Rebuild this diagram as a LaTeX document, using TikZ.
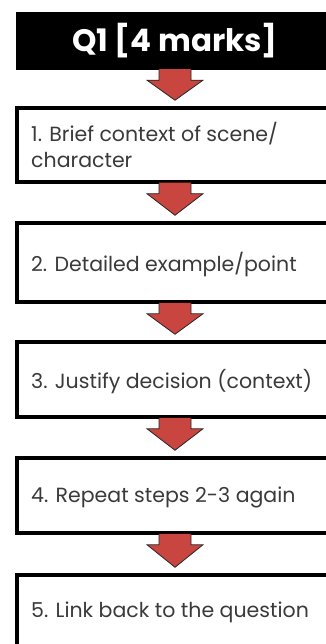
\documentclass[tikz,border=0pt]{standalone}
\usepackage{fontspec}
\setmainfont{Poppins}
\usetikzlibrary{calc}
\definecolor{txt}{HTML}{3A3A3A}
\definecolor{arrowred}{HTML}{C8463F}
\tikzset{
  stepbox/.style={draw=black, line width=3.5pt, fill=white, minimum width=316pt, inner sep=0pt},
  steptext/.style={anchor=west, text=txt, font=\fontsize{20.5}{26}\selectfont, align=left, inner sep=0pt},
  blockarrow/.style={fill=arrowred, draw=black!85, line width=0.8pt, line join=miter}
}
\newcommand{\blockarr}[2]{%
  \draw[blockarrow] ($(#1.south)+(-16,-1)$) -- ($(#1.south)+(-16,10)$) -- ($(#1.south)+(-28,10)$)
    -- ($(#2.north)+(0,-6)$) -- ($(#1.south)+(28,10)$) -- ($(#1.south)+(16,10)$) -- ($(#1.south)+(16,-1)$);
}
\begin{document}
\begin{tikzpicture}[x=1pt,y=-1pt]
\useasboundingbox (0,0) rectangle (326,644);
\begin{scope}
\clip (0,0) rectangle (326,644);
\node[fill=black, minimum width=318pt, minimum height=58pt, inner sep=0pt] (title) at (175,41)
  {\color{white}\fontsize{31}{34}\selectfont\bfseries Q1 [4 marks]};
\node[stepbox, minimum height=74pt] (b1) at (175,145) {};
\node[stepbox, minimum height=79pt] (b2) at (175,262.5) {};
\node[stepbox, minimum height=75pt] (b3) at (175,379.5) {};
\node[stepbox, minimum height=75pt] (b4) at (175,495.5) {};
\node[stepbox, minimum height=90pt] (b5) at (175,620) {};
\node[steptext] (t1) at (31,145) {1. Brief context of scene/\\character};
\node[steptext] (t2) at (31,265) {2. Detailed example/point};
\node[steptext] (t3) at (31,382) {3. Justify decision (context)};
\node[steptext] (t4) at (31,497) {4. Repeat steps 2-3 again};
\node[steptext] (t5) at (31,612) {5. Link back to the question};
\blockarr{title}{b1}
\blockarr{b1}{b2}
\blockarr{b2}{b3}
\blockarr{b3}{b4}
\blockarr{b4}{b5}
\end{scope}
\end{tikzpicture}
\end{document}
